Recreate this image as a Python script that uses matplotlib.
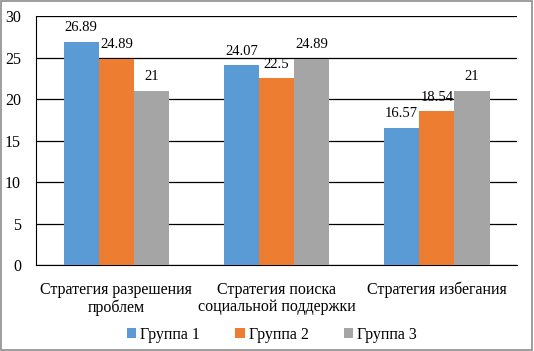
import numpy as np
import matplotlib.pyplot as plt
from matplotlib.patches import Rectangle

plt.rcParams['font.family'] = ['Liberation Serif', 'DejaVu Serif']

categories = ["Стратегия разрешения\nпроблем", "Стратегия поиска\nсоциальной поддержки", "Стратегия избегания"]
series_names = ["Группа 1", "Группа 2", "Группа 3"]
group1 = [26.89, 24.07, 16.57]
group2 = [24.89, 22.5, 18.54]
group3 = [21, 24.89, 21]
labels1 = ["26.89", "24.07", "16.57"]
labels2 = ["24.89", "22.5", "18.54"]
labels3 = ["21", "24.89", "21"]
colors = ["#5B9BD5", "#ED7D31", "#A5A5A5"]

fig = plt.figure(figsize=(5.34, 3.51), dpi=100)
ax = fig.add_axes([0.068, 0.245, 0.9, 0.709])

x = np.arange(len(categories))
w = 0.22
for i, (vals, labs) in enumerate(zip([group1, group2, group3], [labels1, labels2, labels3])):
    bars = ax.bar(x + (i - 1) * w, vals, w, color=colors[i], label=series_names[i], zorder=3)
    for b, lab in zip(bars, labs):
        ax.text(b.get_x() + b.get_width() / 2, b.get_height() + 0.9, lab,
                ha="center", va="bottom", fontsize=10.5, zorder=4)

ax.set_ylim(0, 30)
ax.set_xlim(-0.5, 2.5)
ax.set_yticks(range(0, 31, 5))
ax.yaxis.grid(True, color="black", linewidth=0.9)
ax.set_axisbelow(True)
ax.set_xticks(x)
ax.set_xticklabels(categories, fontsize=11.5, linespacing=1.12)
ax.tick_params(axis="both", length=0, labelsize=11.5)
ax.tick_params(axis="x", pad=12)
ax.tick_params(axis="y", pad=11)
for s in ["top", "right"]:
    ax.spines[s].set_visible(False)
ax.spines["left"].set_color("black")
ax.spines["bottom"].set_color("black")

ax.legend(loc="lower center", bbox_to_anchor=(0.49, -0.37), ncol=3, frameon=False,
          fontsize=11.5, handlelength=0.6, handleheight=0.6, handletextpad=0.25,
          columnspacing=2.2)

fig.patches.append(Rectangle((0.002, 0.003), 0.995, 0.994, transform=fig.transFigure,
                             fill=False, edgecolor="#8c8c8c", linewidth=1.2))

plt.savefig("out.png", dpi=100)
